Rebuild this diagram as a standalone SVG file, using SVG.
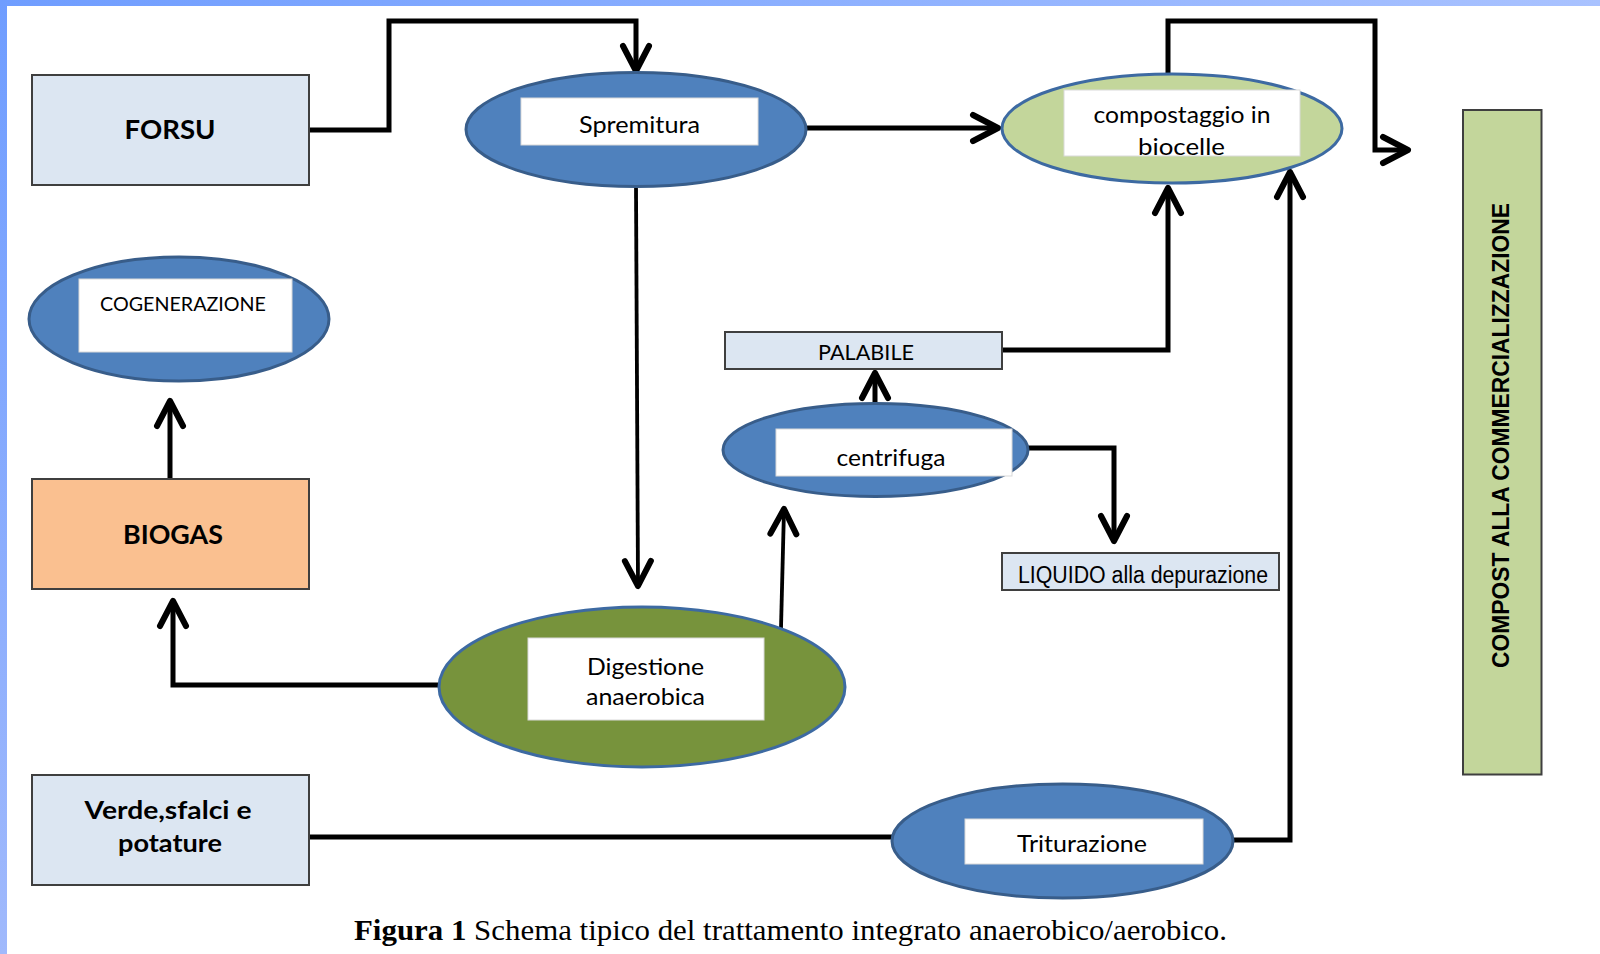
<svg xmlns="http://www.w3.org/2000/svg" width="1600" height="954" viewBox="0 0 1600 954">
  <defs>
    <linearGradient id="topbar" x1="0" y1="0" x2="1" y2="0">
      <stop offset="0" stop-color="#6f9dff"/>
      <stop offset="1" stop-color="#a9c2ff"/>
    </linearGradient>
    <linearGradient id="leftbar" x1="0" y1="0" x2="0" y2="1">
      <stop offset="0" stop-color="#6f9dff"/>
      <stop offset="1" stop-color="#a0b9fc"/>
    </linearGradient>
    <marker id="arr" viewBox="-30 -17 34 34" refX="0" refY="0" markerWidth="34" markerHeight="34" orient="auto" markerUnits="userSpaceOnUse">
      <path d="M-25,-13 L0,0 L-25,13" fill="none" stroke="#000" stroke-width="6" stroke-linecap="round" stroke-linejoin="round"/>
    </marker>
    <style>
      .box { stroke: #3f3f3f; stroke-width: 2; }
      .lb { fill: #dce6f2; }
      .blue { fill: #4f81bd; stroke: #385d8a; stroke-width: 3; }
      .green { fill: #c3d69b; stroke: #3d6aa2; stroke-width: 3; }
      .dgreen { fill: #77933c; stroke: #3d6aa2; stroke-width: 3; }
      .wb { fill: #ffffff; stroke: #d9d9d9; stroke-width: 1; }
      .t { font-family: Lato, "Open Sans", sans-serif; fill: #000; text-anchor: middle; }
      .tb { font-family: Lato, "Open Sans", sans-serif; font-weight: bold; fill: #000; text-anchor: middle; }
      .conn path { fill: none; stroke: #000; stroke-width: 5; stroke-linejoin: miter; stroke-linecap: butt; }
      .conn path.thin { stroke-width: 3.8; }
      .conn path.arrow { marker-end: url(#arr); }
    </style>
  </defs>

  <rect x="0" y="0" width="1600" height="954" fill="#ffffff"/>
  <rect x="0" y="0" width="1600" height="6" fill="url(#topbar)"/>
  <rect x="0" y="0" width="7" height="954" fill="url(#leftbar)"/>

  <g id="connectors" class="conn">
    <path class="arrow" d="M309,130 H389 V21 H636 V71"/>
    <path class="arrow" d="M806,128 H998"/>
    <path class="arrow" d="M1168,74 V21 H1375 V150 H1408"/>
    <path class="arrow thin" d="M636,187 L638,586"/>
    <path class="arrow" d="M439,685 H173 V601"/>
    <path class="arrow" d="M170,479 V401"/>
    <path class="arrow thin" d="M781,628 L784,509"/>
    <path class="arrow" d="M875,404 V373"/>
    <path class="arrow" d="M1002,350 H1168 V188"/>
    <path class="arrow" d="M1028,448 H1114 V541"/>
    <path d="M309,837 H892"/>
    <path class="arrow" d="M1233,840 H1290 V172"/>
  </g>

  <g id="forsu">
    <rect class="box lb" x="32" y="75" width="277" height="110"/>
    <text class="tb" x="170" y="139" font-size="27" textLength="91" lengthAdjust="spacingAndGlyphs">FORSU</text>
  </g>

  <g id="spremitura">
    <ellipse class="blue" cx="636" cy="129.5" rx="170" ry="57"/>
    <rect class="wb" x="521" y="98" width="237" height="47"/>
    <text class="t" x="639.5" y="132.5" font-size="23" textLength="121" lengthAdjust="spacingAndGlyphs">Spremitura</text>
  </g>

  <g id="compostaggio">
    <ellipse class="green" cx="1172" cy="128.5" rx="170" ry="54.5"/>
    <rect class="wb" x="1064" y="90" width="236" height="66"/>
    <text class="t" x="1182" y="122.5" font-size="23" textLength="177" lengthAdjust="spacingAndGlyphs">compostaggio in</text>
    <text class="t" x="1181.5" y="154.5" font-size="23" textLength="87" lengthAdjust="spacingAndGlyphs">biocelle</text>
  </g>

  <g id="cogenerazione">
    <ellipse class="blue" cx="179" cy="319" rx="150" ry="62"/>
    <rect class="wb" x="79" y="279" width="213" height="73"/>
    <text class="t" x="183" y="311" font-size="20" textLength="166" lengthAdjust="spacingAndGlyphs">COGENERAZIONE</text>
  </g>

  <g id="palabile">
    <rect class="box lb" x="725" y="332" width="277" height="37" stroke-width="1.5"/>
    <text class="t" x="866" y="360" font-size="21" textLength="96" lengthAdjust="spacingAndGlyphs">PALABILE</text>
  </g>

  <g id="centrifuga">
    <ellipse class="blue" cx="875.5" cy="450" rx="152.5" ry="46.5"/>
    <rect class="wb" x="776" y="429" width="236" height="47"/>
    <text class="t" x="891" y="465.5" font-size="23" textLength="109" lengthAdjust="spacingAndGlyphs">centrifuga</text>
  </g>

  <g id="liquido">
    <rect class="box lb" x="1002" y="553" width="277" height="37" stroke-width="1.5"/>
    <text x="1143" y="583" font-family="'Liberation Sans', Arial, sans-serif" font-size="23" text-anchor="middle" textLength="250" lengthAdjust="spacingAndGlyphs">LIQUIDO alla depurazione</text>
  </g>

  <g id="biogas">
    <rect class="box" x="32" y="479" width="277" height="110" fill="#fac090"/>
    <text class="tb" x="173" y="544" font-size="27" textLength="100" lengthAdjust="spacingAndGlyphs">BIOGAS</text>
  </g>

  <g id="digestione">
    <ellipse class="dgreen" cx="642" cy="687" rx="203" ry="80"/>
    <rect class="wb" x="528" y="638" width="236" height="82"/>
    <text class="t" x="645.5" y="674.5" font-size="23" textLength="117" lengthAdjust="spacingAndGlyphs">Digestione</text>
    <text class="t" x="645.5" y="705" font-size="23" textLength="119" lengthAdjust="spacingAndGlyphs">anaerobica</text>
  </g>

  <g id="verde">
    <rect class="box lb" x="32" y="775" width="277" height="110"/>
    <text class="tb" x="168" y="819" font-size="25" textLength="167" lengthAdjust="spacingAndGlyphs">Verde,sfalci e</text>
    <text class="tb" x="170" y="852" font-size="25" textLength="104" lengthAdjust="spacingAndGlyphs">potature</text>
  </g>

  <g id="triturazione">
    <ellipse class="blue" cx="1062.5" cy="841" rx="170.5" ry="57"/>
    <rect class="wb" x="965" y="819" width="238" height="45"/>
    <text class="t" x="1082" y="851.5" font-size="23" textLength="130" lengthAdjust="spacingAndGlyphs">Triturazione</text>
  </g>

  <g id="compost">
    <rect class="box" x="1463" y="110" width="78.5" height="664.5" fill="#c3d69b"/>
    <text transform="translate(1509,435.5) rotate(-90)" x="0" y="0" font-family="'Liberation Sans', Arial, sans-serif" font-weight="bold" font-size="23" text-anchor="middle" textLength="465" lengthAdjust="spacingAndGlyphs">COMPOST ALLA COMMERCIALIZZAZIONE</text>
  </g>

  <g id="caption">
    <text x="354" y="940" font-family="'Liberation Serif', 'Times New Roman', serif" font-size="29" textLength="873" lengthAdjust="spacingAndGlyphs"><tspan font-weight="bold">Figura 1</tspan> Schema tipico del trattamento integrato anaerobico/aerobico.</text>
  </g>
</svg>
